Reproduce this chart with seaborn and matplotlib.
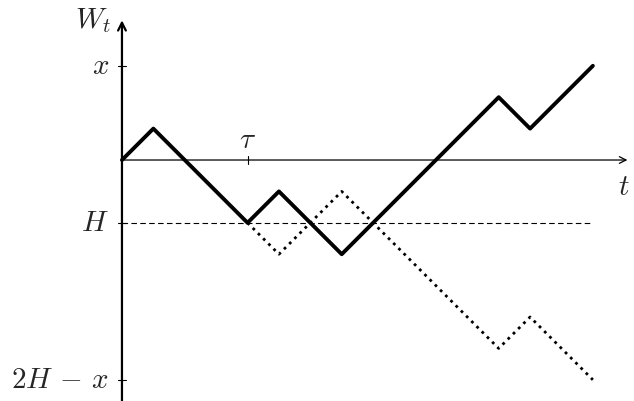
import matplotlib
matplotlib.use("Agg")
import matplotlib.pyplot as plt
import seaborn as sns
import pandas as pd

# random walk path W_t (unit steps)
times = [0, 1, 4, 5, 7, 12, 13, 15]
path = [0, 1, -2, -1, -3, 2, 1, 3]
# reflected part after hitting H at tau
refl_times = [4, 5, 7, 12, 13, 15]
refl_path = [-2, -3, -1, -6, -5, -7]
x_level = 3
H_level = -2
tau = 4

sns.set_style("white")
plt.rcParams["mathtext.fontset"] = "cm"
plt.rcParams["font.family"] = ["DejaVu Serif"]

fig = plt.figure(figsize=(6.34, 4.01), dpi=100)
ax = fig.add_axes([0, 0, 1, 1])
ax.set_xlim(-3.885, 16.31)
ax.set_ylim(-7.675, 5.096)

df = pd.DataFrame({"t": times, "W": path})
df_r = pd.DataFrame({"t": refl_times, "W": refl_path})

# axes
ax.annotate("", xy=(16.1, 0), xytext=(0, 0),
            arrowprops=dict(arrowstyle="->", lw=0.9, color="black",
                            shrinkA=0, shrinkB=0, mutation_scale=12))
ax.annotate("", xy=(0, 4.45), xytext=(0, -7.7),
            arrowprops=dict(arrowstyle="->", lw=1.6, color="black",
                            shrinkA=0, shrinkB=0, mutation_scale=14))

# dashed level H
ax.plot([0, 15], [H_level, H_level], ls=(0, (5, 3)), lw=0.8, color="black")

sns.lineplot(data=df_r, x="t", y="W", ax=ax, color="black", lw=2,
             linestyle=":", sort=False, estimator=None)
sns.lineplot(data=df, x="t", y="W", ax=ax, color="black", lw=2.8,
             sort=False, estimator=None)
ax.axis("off")

# ticks
for yv in [x_level, H_level, 2 * H_level - x_level]:
    ax.plot([-0.13, 0.13], [yv, yv], color="black", lw=0.8)
ax.plot([tau, tau], [-0.13, 0.13], color="black", lw=0.8)

fs = 21
ax.text(-0.42, x_level, r"$x$", ha="right", va="center", fontsize=fs)
ax.text(-0.42, H_level, r"$H$", ha="right", va="center", fontsize=fs)
ax.text(-0.42, 2 * H_level - x_level, r"$2H\,-\,x$", ha="right", va="center", fontsize=fs)
ax.text(tau, 0.2, r"$\tau$", ha="center", va="bottom", fontsize=fs)
ax.text(16.0, -0.4, r"$t$", ha="center", va="top", fontsize=fs)
ax.text(-0.35, 4.45, r"$W_t$", ha="right", va="center", fontsize=fs)

fig.savefig("out.png", dpi=100)
